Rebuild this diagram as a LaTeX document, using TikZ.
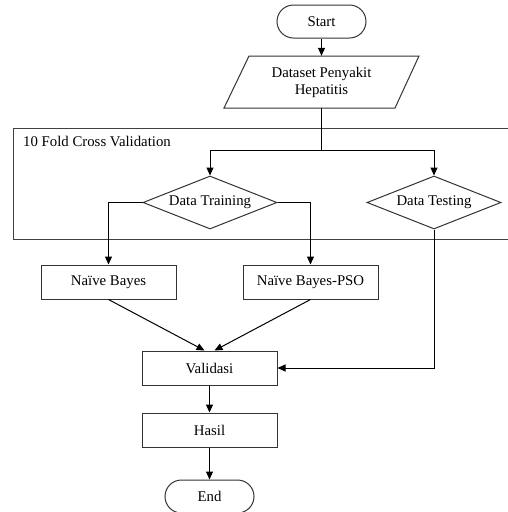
\documentclass[tikz,border=0pt]{standalone}
\usepackage{fontspec}
\setmainfont{Liberation Serif}
\usetikzlibrary{shapes.geometric,arrows.meta}
\begin{document}
\begin{tikzpicture}[x=1pt,y=-1pt,
  every node/.style={font=\fontsize{14.8}{17}\selectfont, text=black},
  boxline/.style={draw=black!80, line width=1pt},
  procbox/.style={boxline, rectangle, minimum width=135pt, minimum height=34pt, inner sep=0pt},
  term/.style={boxline, rectangle, rounded corners=16.5pt, minimum width=89pt, minimum height=33pt, inner sep=0pt},
  decision/.style={boxline, diamond, aspect=2.53, minimum width=134pt, minimum height=53pt, inner sep=0pt},
  conn/.style={draw=black, line width=1pt},
  arr/.style={conn, -{Triangle[length=8pt,width=7pt]}}
]
\useasboundingbox (0,0) rectangle (508,512);
\fill[white] (0,0) rectangle (508,512);
% container
\draw[draw=black!75, line width=1pt] (13,128) rectangle (515,239);
\node[anchor=west, inner sep=0pt] (cvlabel) at (23,141) {10 Fold Cross Validation};
% nodes
\node[term] (start) at (321.5,21.5) {Start};
\node[minimum width=146pt, minimum height=52pt, inner sep=0pt, align=center] (ds) at (321.5,82) {Dataset Penyakit\\Hepatitis};
\draw[boxline, line join=miter] (249,56) -- (419,56) -- (395,108) -- (224,108) -- cycle;
\node[decision] (train) at (210,202.5) {Data Training};
\node[decision] (test) at (434,202.5) {Data Testing};
\node[procbox] (nb) at (108.5,282) {Naïve Bayes};
\node[procbox] (pso) at (310.5,282) {Naïve Bayes-PSO};
\node[procbox] (val) at (209.5,368) {Validasi};
\node[procbox] (hasil) at (209.5,430) {Hasil};
\node[term] (end) at (209.5,496.5) {End};
\coordinate (split) at (321.5,150);
% connectors
\draw[arr] (start.south) -- (ds.north);
\draw[conn] (ds.south) -- (split);
\draw[arr] (split) -| (train.north);
\draw[arr] (split) -| (test.north);
\draw[arr] (train.west) -| (nb.north);
\draw[arr] (train.east) -| (pso.north);
\draw[arr] (nb.south) -- ([xshift=-5pt]val.north);
\draw[arr] (pso.south) -- ([xshift=5pt]val.north);
\draw[arr] (test.south) |- (val.east);
\draw[arr] (val.south) -- (hasil.north);
\draw[arr] (hasil.south) -- (end.north);
\end{tikzpicture}
\end{document}
